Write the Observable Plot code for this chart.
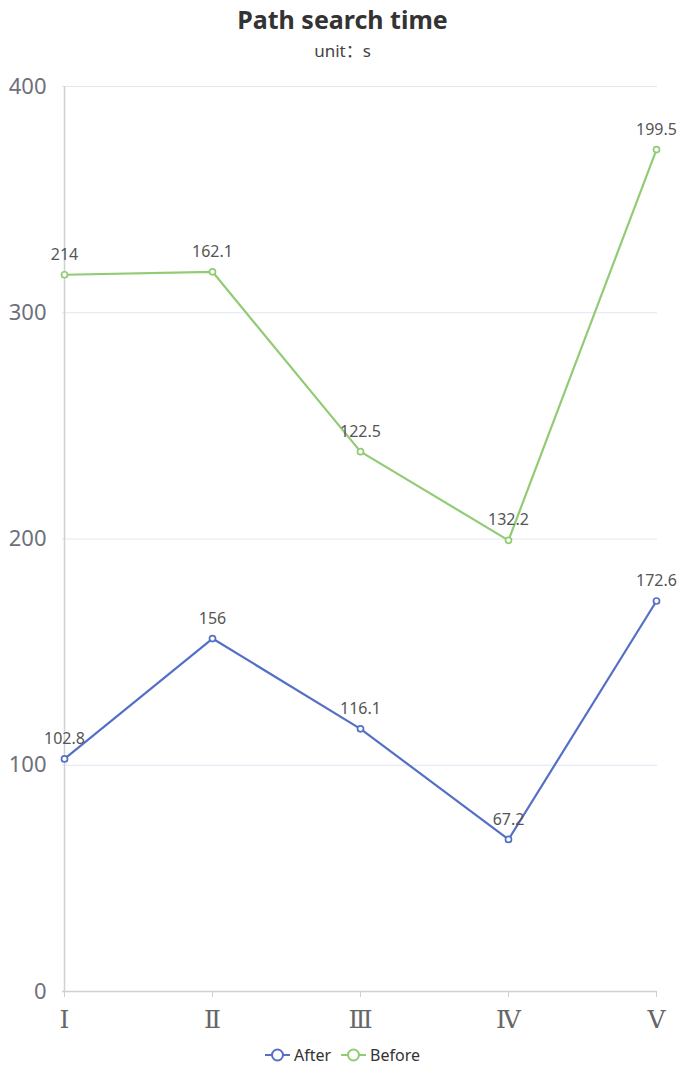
<!DOCTYPE html>
<html>
<head>
<meta charset="utf-8">
<script src="https://cdn.jsdelivr.net/npm/d3@7"></script>
<script src="https://cdn.jsdelivr.net/npm/@observablehq/plot@0.6"></script>
<style>
  html, body { margin:0; padding:0; background:#fff; }
  body { width:685px; height:1076px; position:relative; font-family:"Noto Sans","Noto Sans CJK SC",sans-serif; }
  #title { position:absolute; top:3px; left:0; width:685px; text-align:center; font-size:25px; font-weight:bold; color:#333; line-height:32px; }
  #subtitle { position:absolute; top:40px; left:0; width:685px; text-align:center; font-size:17px; color:#444; line-height:22px; }
  #chart { position:absolute; top:70px; left:0; }
  #legend { position:absolute; top:1044px; left:0; width:685px; display:flex; justify-content:center; align-items:center; font-size:16px; color:#333; }
  .item { display:flex; align-items:center; margin:0 5px; }
  .item svg { margin-right:4px; }
</style>
</head>
<body>
<div id="title">Path search time</div>
<div id="subtitle">unit：s</div>
<div id="chart"></div>
<div id="legend"></div>
<script>
const categories = ["Ⅰ","Ⅱ","Ⅲ","Ⅳ","Ⅴ"];
const afterValues = [102.8, 156, 116.1, 67.2, 172.6];
const beforeValues = [214, 162.1, 122.5, 132.2, 199.5];
const seriesNames = ["After", "Before"];
const seriesColors = ["#5470c6", "#91cc75"];
const yTicks = [0, 100, 200, 300, 400];

// stacked table (Before stacked on After)
const rows = [];
categories.forEach((c, i) => {
  rows.push({cat: c, series: seriesNames[0], value: afterValues[i], top: afterValues[i]});
  rows.push({cat: c, series: seriesNames[1], value: beforeValues[i], top: afterValues[i] + beforeValues[i]});
});

const plot = Plot.plot({
  width: 685,
  height: 965,
  marginLeft: 62,
  marginRight: 28,
  marginTop: 16,
  marginBottom: 44,
  style: {fontFamily: '"Noto Sans","Noto Sans CJK SC",sans-serif', background: "white"},
  x: {type: "point", domain: categories, padding: 0},
  y: {domain: [0, 400]},
  color: {domain: seriesNames, range: seriesColors},
  marks: [
    Plot.ruleY(yTicks.filter(d => d > 0), {stroke: "#e0e6f1", strokeWidth: 1}),
    Plot.ruleX([categories[0]], {stroke: "#d0d0d0", strokeWidth: 1.5}),
    Plot.ruleY([0], {stroke: "#d0d0d0", strokeWidth: 1.5}),
    Plot.axisY({ticks: yTicks, tickSize: 0, tickPadding: 16, fontSize: 22, fill: "#6e7079", label: null}),
    Plot.axisX({tickSize: 6, tickPadding: 13, fontSize: 25, stroke: "#d0d0d0", fill: "#666", label: null, fontFamily: '"DejaVu Serif","Noto Sans CJK SC",serif'}),
    Plot.line(rows, {x: "cat", y: "top", z: "series", stroke: "series", strokeWidth: 2.2}),
    Plot.dot(rows, {x: "cat", y: "top", stroke: "series", fill: "white", r: 3, strokeWidth: 1.7}),
    Plot.text(rows, {x: "cat", y: "top", text: d => String(d.value), dy: -20, fontSize: 16, fill: "#555"})
  ]
});
document.getElementById("chart").appendChild(plot);

const legend = document.getElementById("legend");
seriesNames.forEach((name, i) => {
  const item = document.createElement("div");
  item.className = "item";
  item.innerHTML = `<svg width="25" height="14"><line x1="0" y1="7" x2="25" y2="7" stroke="${seriesColors[i]}" stroke-width="2"/><circle cx="12.5" cy="7" r="5.5" fill="white" stroke="${seriesColors[i]}" stroke-width="2"/></svg><span>${name}</span>`;
  legend.appendChild(item);
});
</script>
</body>
</html>
